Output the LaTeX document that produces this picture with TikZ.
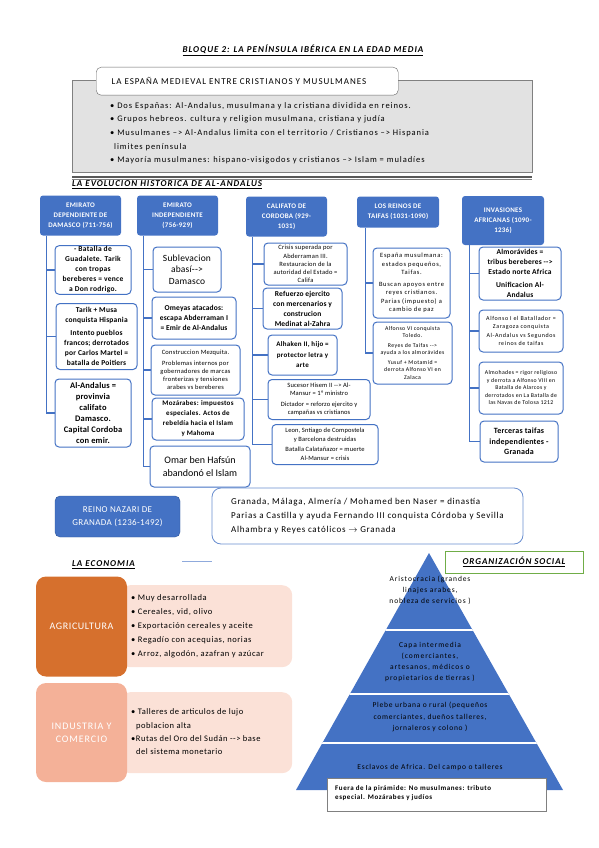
\documentclass[tikz,border=0pt]{standalone}
\usepackage{fontspec}
\setmainfont{Carlito}
\usetikzlibrary{positioning}
\definecolor{azul}{RGB}{68,114,196}
\definecolor{azulosc}{RGB}{47,85,151}
\definecolor{naranja}{RGB}{214,112,45}
\definecolor{salmon}{RGB}{244,177,152}
\definecolor{rosado}{RGB}{251,225,215}
\definecolor{gris}{RGB}{226,226,226}
\definecolor{verde}{RGB}{112,173,71}
\newcommand\fsz[2]{\fontsize{#1}{#2}\selectfont}
\newcommand\trk[1]{\addfontfeature{LetterSpace=#1}}

\begin{document}
\begin{tikzpicture}[x=1pt, y=-1pt,
  hdr/.style={fill=azul, rounded corners=3pt, text=white, align=center, inner sep=1pt, font=\fsz{7}{10}\bfseries\trk{4}},
  item/.style={draw=azul, line width=1pt, rounded corners=4pt, fill=white, align=center, inner sep=1pt},
  conn/.style={draw=azul, line width=1.2pt},
  wh/.style 2 args={minimum width=#1pt, minimum height=#2pt},
  titulo/.style={anchor=west, inner sep=0pt, font=\fsz{9}{11}\bfseries\itshape\trk{11}}]
  \useasboundingbox (0,0) rectangle (599,848);
  \node[inner sep=0pt, font=\fsz{9}{11}\bfseries\itshape\trk{11}] (tit) at (303,50) {\underline{BLOQUE 2: LA PENÍNSULA IBÉRICA EN LA EDAD MEDIA}};
  % intro box
  \node[draw=gray, fill=gris, wh={460}{92}, anchor=north west] (intro) at (72,80) {};
  \node[draw=gray!80!black, fill=white, rounded corners=5pt, wh={302}{28}, anchor=north west] (introtit) at (96,67) {};
  \node[anchor=west, font=\fsz{9}{11}\trk{11}] at (108,81) {LA ESPAÑA MEDIEVAL ENTRE CRISTIANOS Y MUSULMANES};
  \node[anchor=north west, align=left, inner sep=0pt, font=\fsz{8.5}{13.7}\trk{11}] (introtxt) at (110,102) {%
    • Dos Españas: Al-Andalus, musulmana y la cristiana dividida en reinos.\\
    • Grupos hebreos. cultura y religion musulmana, cristiana y judía\\
    • Musulmanes --> Al-Andalus limita con el territorio / Cristianos --> Hispania\\
    \hspace*{4pt}limites península\\
    • Mayoría musulmanes: hispano-visigodos y cristianos --> Islam = muladíes};
  \draw[gray!70!black, line width=1.3pt] (intro.south west) ++(0,4.5) -- ++(460,0);
  \draw[gray, line width=0.4pt] (intro.south west) ++(0,6.8) -- ++(460,0);
  \node[titulo] (evo) at (72,185) {\underline{LA EVOLUCION HISTORICA DE AL-ANDALUS}};

  % column headers
  \node[hdr, wh={81}{40}] (h1) at (80.5,215.5) {EMIRATO\\DEPENDIENTE DE\\DAMASCO (711-756)};
  \node[hdr, wh={81}{40}] (h2) at (177.5,215.5) {EMIRATO\\INDEPENDIENTE\\(756-929)};
  \node[hdr, wh={81}{40}] (h3) at (286.5,216.5) {CALIFATO DE\\CORDOBA (929-\\1031)};
  \node[hdr, wh={82}{31}] (h4) at (398,212) {LOS REINOS DE\\TAIFAS (1031-1090)};
  \node[hdr, wh={82}{49}] (h5) at (503,220.5) {INVASIONES\\AFRICANAS (1090-\\1236)};

  % emirato dependiente
  \node[item, wh={76}{48}, font=\fsz{7.5}{10}\bfseries\trk{4}] (b11) at (93,270) {- Batalla de\\Guadalete. Tarik\\con tropas\\bereberes = vence\\a Don rodrigo.};
  \node[item, wh={81}{66}, font=\fsz{7.5}{10}\bfseries\trk{3}] (b12) at (96.5,336.5) {Tarik + Musa\\conquista Hispania\\[3pt]Intento pueblos\\francos; derrotados\\por Carlos Martel =\\batalla de Poitiers};
  \node[item, wh={76}{68}, font=\fsz{8.5}{11}\bfseries\trk{2}] (b13) at (93,413) {Al-Andalus =\\provinvia\\califato\\Damasco.\\Capital Cordoba\\con emir.};
  % emirato independiente
  \node[item, wh={68}{45}, font=\fsz{9.5}{11.7}\trk{2}] (b21) at (187,269.5) {Sublevacion\\abasí-{}->\\Damasco};
  \node[item, wh={84}{42}, font=\fsz{7.5}{10}\bfseries\trk{2}] (b22) at (194,318) {Omeyas atacados:\\escapa Abderraman I\\= Emir de Al-Andalus};
  \node[item, wh={89}{50}, font=\fsz{6.5}{8.2}\trk{4}] (b23) at (195.5,370) {Construccion Mezquita.\\[2pt]Problemas internos por\\gobernadores de marcas\\fronterizas y tensiones\\arabes vs bereberes};
  \node[item, wh={92}{42}, font=\fsz{7}{10}\bfseries\trk{4}] (b24) at (198,419) {Mozárabes: impuestos\\especiales. Actos de\\rebeldía hacia el Islam\\y Mahoma};
  \node[item, wh={100}{41}, font=\fsz{10}{13}] (b25) at (200,466.5) {Omar ben Hafsún\\abandonó el Islam};
  % califato
  \node[item, wh={83}{42}, font=\fsz{6.5}{8.2}\trk{4}] (b31) at (305.5,264) {Crisis superada por\\Abderraman III.\\Restauracion de la\\autoridad del Estado =\\Califa};
  \node[item, wh={79}{41}, font=\fsz{7.5}{10}\bfseries\trk{2}] (b32) at (302.5,308.5) {Refuerzo ejercito\\con mercenarios y\\construcion\\Medinat al-Zahra};
  \node[item, wh={69}{40}, font=\fsz{7}{10.5}\bfseries\trk{4}] (b33) at (302.5,355) {Alhaken II, hijo =\\protector letra y\\arte};
  \node[item, wh={102}{40}, font=\fsz{6.5}{8.5}\trk{2}] (b34) at (319,399.5) {Sucesor Hisem II -{}-> Al-\\Mansur = 1º ministro\\[2pt]Dictador = reforzo ejercito y\\campañas vs cristianos};
  \node[item, wh={106}{40}, font=\fsz{6.5}{8.5}\trk{2}] (b35) at (325,444.5) {Leon, Sntiago de Compostela\\y Barcelona destruidas\\[2pt]Batalla Calatañazor = muerte\\Al-Mansur = crisis};
  % taifas
  \node[item, wh={77}{70}, font=\fsz{6.5}{8.5}\trk{10}] (b41) at (411.5,283) {España musulmana:\\estados pequeños,\\Taifas.\\[3pt]Buscan apoyos entre\\reyes cristianos.\\Parias (impuesto) a\\cambio de paz};
  \node[item, wh={79}{62}, font=\fsz{5.8}{7.5}\trk{7}] (b42) at (412.5,353) {Alfonso VI conquista\\Toledo.\\[2pt]Reyes de Taifas -{}->\\ayuda a los almorávides\\[2pt]Yusuf + Motamid =\\derrota Alfonso VI en\\Zalaca};
  % invasiones africanas
  \node[item, wh={82}{53}, font=\fsz{7.5}{10}\bfseries\trk{3}] (b51) at (520,273.5) {Almorávides =\\tribus bereberes -{}->\\Estado norte Africa\\[3pt]Unificacion Al-\\Andalus};
  \node[item, wh={84}{42}, font=\fsz{6}{7.5}\trk{10}] (b52) at (521,331) {Alfonso I el Batallador =\\Zaragoza conquista\\[2pt]Al-Andalus vs Segundos\\reinos de taifas};
  \node[item, wh={84}{52}, font=\fsz{5.8}{7.5}\trk{6}] (b53) at (521,388) {Almohades = rigor religioso\\y derrota a Alfonso VIII en\\Batalla de Alarcos y\\derrotados en La Batalla de\\las Navas de Tolosa 1212};
  \node[item, wh={78}{41}, font=\fsz{8}{10.5}\bfseries\trk{3}] (b54) at (519,441.5) {Terceras taifas\\independientes -\\Granada};

  % column connectors
  \coordinate (c1) at ([xshift=7pt]h1.south west);
  \coordinate (c2) at ([xshift=7pt]h2.south west);
  \coordinate (c3) at ([xshift=7pt]h3.south west);
  \coordinate (c4) at ([xshift=9pt]h4.south west);
  \coordinate (c5) at ([xshift=8pt]h5.south west);
  \draw[conn] (c1) |- (b13.west);
  \foreach \b in {b11,b12} \draw[conn] (c1 |- \b.west) -- (\b.west);
  \draw[conn] (c2) |- (b25.west);
  \foreach \b in {b21,b22,b23,b24} \draw[conn] (c2 |- \b.west) -- (\b.west);
  \draw[conn] (c3) |- (b35.west);
  \foreach \b in {b31,b32,b33,b34} \draw[conn] (c3 |- \b.west) -- (\b.west);
  \draw[conn] (c4) |- (b42.west);
  \draw[conn] (c4 |- b41.west) -- (b41.west);
  \draw[conn] (c5) |- (b54.west);
  \foreach \b in {b51,b52,b53} \draw[conn] (c5 |- \b.west) -- (\b.west);

  % reino nazari
  \node[fill=azul, draw=azulosc, rounded corners=5pt, wh={125}{41}, text=white, align=center, font=\fsz{9}{13.5}\trk{4}] (rn) at (117.5,516.5) {REINO NAZARI DE\\GRANADA (1236-1492)};
  \node[draw=azul!80, line width=0.8pt, fill=white, rounded corners=9pt, wh={311}{56}, align=left, font=\fsz{9}{13.7}\trk{8}] (gr) at (367.5,516) {Granada, Málaga, Almería / Mohamed ben Naser = dinastía\\Parias a Castilla y ayuda Fernando III conquista Córdoba y Sevilla\\Alhambra y Reyes católicos $\rightarrow$ Granada};

  % economia
  \node[titulo] (eco) at (72,565) {\underline{LA ECONOMIA}};
  \draw[azul!60, line width=0.8pt] (182,561) -- (212,561);
  \node[fill=rosado, rounded corners=10pt, wh={172}{82}, anchor=north west] (agl) at (120,585) {};
  \node[fill=naranja, rounded corners=10pt, wh={91}{100}, text=white, font=\fsz{10}{12}\trk{6}] (agr) at (81.5,626.5) {AGRICULTURA};
  \node[anchor=west, align=left, inner sep=0pt, font=\fsz{8.5}{14}\trk{7}] (agt) at (131,626) {• Muy desarrollada\\• Cereales, vid, olivo\\• Exportación cereales y aceite\\• Regadío con acequias, norias\\• Arroz, algodón, azafran y azúcar};
  \node[fill=rosado, rounded corners=10pt, wh={172}{81}, anchor=north west] (indl) at (120,692) {};
  \node[fill=salmon, rounded corners=10pt, wh={91}{99}, text=white, align=center, font=\fsz{10}{13.3}\trk{9}] (ind) at (81.5,732.5) {INDUSTRIA Y\\COMERCIO};
  \node[anchor=west, align=left, inner sep=0pt, font=\fsz{8.5}{13.3}\trk{6}] (indt) at (131,732) {• Talleres de articulos de lujo\\\hspace*{5pt}poblacion alta\\•Rutas del Oro del Sudán -{}-> base\\\hspace*{5pt}del sistema monetario};

  % organizacion social
  \fill[azul] (429,553) -- (296,790) -- (563,790) -- cycle;
  \begin{scope}
    \clip (429,553) -- (296,790) -- (563,790) -- cycle;
    \foreach \y in {630,694,743} \draw[white, line width=1.5pt] (290,\y) -- (570,\y);
  \end{scope}
  \node[draw=verde, line width=1pt, fill=white, wh={138}{22}, font=\fsz{9}{11}\bfseries\itshape\trk{10}] (org) at (514,562) {\underline{ORGANIZACIÓN SOCIAL}};
  \node[align=center, font=\fsz{7.5}{11}\trk{12}] (p1) at (430,590) {Aristocracia (grandes\\linajes arabes,\\nobleza de servicios )};
  \node[align=center, font=\fsz{7.5}{11}\trk{12}] (p2) at (430,662) {Capa intermedia\\(comerciantes,\\artesanos, médicos o\\propietarios de tierras )};
  \node[align=center, font=\fsz{7.5}{11.5}\trk{10}] (p3) at (430,717) {Plebe urbana o rural (pequeños\\comerciantes, dueños talleres,\\jornaleros y colono )};
  \node[align=center, font=\fsz{7.5}{11}\trk{10}] (p4) at (430,767) {Esclavos de Africa. Del campo o talleres};
  \node[draw=gray, fill=white, wh={219}{33}, anchor=north west] (fuera) at (327,778) {};
  \node[anchor=north west, align=left, inner sep=0pt, font=\fsz{7}{9.5}\bfseries\trk{8}] at (335,785) {Fuera de la pirámide: No musulmanes: tributo\\especial. Mozárabes y judíos};
\end{tikzpicture}
\end{document}
